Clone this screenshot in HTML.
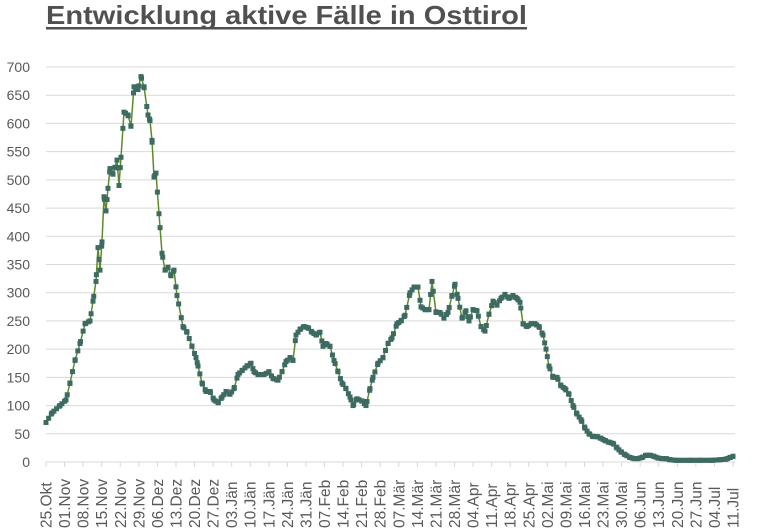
<!DOCTYPE html>
<html><head><meta charset="utf-8"><style>
html,body{margin:0;padding:0;background:#fff;width:768px;height:528px;overflow:hidden}
svg{display:block}
</style></head><body>
<svg id="s" width="768" height="528" xmlns="http://www.w3.org/2000/svg" font-family="Liberation Sans, Arial, sans-serif">
<text x="46" y="24" font-size="26" font-weight="bold" fill="#505050" textLength="481" lengthAdjust="spacingAndGlyphs">Entwicklung aktive Fälle in Osttirol</text>
<rect x="46" y="27" width="481" height="2.5" fill="#505050"/>
<g id="grid"></g><g id="data"></g><g id="lab"></g>
</svg>
<script>
var ns="http://www.w3.org/2000/svg";
function el(t,a,p,txt){var e=document.createElementNS(ns,t);for(var k in a)e.setAttribute(k,a[k]);if(txt!=null)e.textContent=txt;document.getElementById(p).appendChild(e);return e;}
var x0=46,x1=733,y0=462,sc=(462-67)/700;
for(var v=0;v<=700;v+=50){var y=y0-v*sc;
 if(v>0)el('line',{x1:x0,x2:x1+2,y1:y,y2:y,stroke:'#d9d9d9','stroke-width':1},'grid');
 el('text',{x:30,y:y+5,'font-size':14,fill:'#595959','text-anchor':'end'},'lab',String(v));}
el('line',{x1:x0,x2:x1+2,y1:y0,y2:y0,stroke:'#d9d9d9','stroke-width':1},'grid');
var labs=["25.Okt","01.Nov","08.Nov","15.Nov","22.Nov","29.Nov","06.Dez","13.Dez","20.Dez","27.Dez","03.Jän","10.Jän","17.Jän","24.Jän","31.Jän","07.Feb","14.Feb","21.Feb","28.Feb","07.Mär","14.Mär","21.Mär","28.Mär","04.Apr","11.Apr","18.Apr","25.Apr","02.Mai","09.Mai","16.Mai","23.Mai","30.Mai","06.Jun","13.Jun","20.Jun","27.Jun","04.Jul","11.Jul"];
var dx=(x1-x0)/37;
labs.forEach(function(l,i){var x=x0+i*dx;
 el('line',{x1:x,x2:x,y1:y0,y2:y0+5,stroke:'#d9d9d9'},'grid');
 el('text',{x:0,y:0,'font-size':15.5,fill:'#595959','text-anchor':'start',transform:'translate('+(x+5.5)+',528) rotate(-90)'},'lab',l);});
var K=[[46,70],[52,87],[60,100],[66,110],[70,140],[75,180],[80,210],[85,245],[90,250],[93,285],[96,320],[98,380],[100,340],[102,390],[104,470],[106,445],[108,485],[110,520],[113,510],[117,535],[119,490],[121,540],[124,620],[128,615],[131,595],[134,665],[138,660],[141,683],[144,665],[148,615],[150,605],[152,570],[154,505],[156,512],[159,440],[162,370],[165,340],[168,345],[171,330],[174,340],[177,295],[183,240],[187,230],[192,205],[196,185],[198,170],[202,140],[206,125],[210,125],[214,110],[218,105],[222,115],[226,125],[230,120],[234,130],[238,155],[242,162],[247,170],[251,175],[254,160],[258,155],[264,155],[269,160],[273,148],[278,145],[282,160],[286,178],[290,185],[293,180],[296,225],[300,235],[304,240],[308,238],[312,230],[316,225],[320,230],[323,205],[326,210],[330,205],[334,180],[338,160],[342,140],[346,130],[350,115],[353,100],[357,112],[362,108],[366,100],[370,130],[373,150],[378,175],[383,185],[388,210],[392,220],[397,245],[401,250],[405,260],[410,300],[414,310],[418,310],[421,275],[425,270],[429,270],[432,320],[436,265],[440,265],[444,255],[448,265],[452,295],[455,315],[458,290],[462,255],[466,268],[469,250],[473,270],[477,268],[481,240],[485,232],[489,262],[493,285],[497,278],[501,290],[505,297],[509,290],[513,295],[517,290],[520,283],[523,245],[527,240],[531,245],[535,245],[539,240],[543,225],[546,200],[549,170],[553,150],[557,150],[561,135],[565,130],[569,120],[573,100],[577,85],[581,75],[585,60],[589,50],[593,45],[597,45],[601,42],[605,38],[609,35],[613,33],[617,25],[621,18],[625,13],[630,8],[634,6],[638,6],[642,8],[646,12],[650,12],[654,10],[658,7],[662,6],[666,6],[670,4],[676,3],[690,3],[700,3],[712,3],[720,4],[726,5],[730,8],[733,10]];
var pts=K.map(function(p){return [p[0],y0-p[1]*sc];});
el('polyline',{points:pts.map(function(p){return p[0].toFixed(1)+','+p[1].toFixed(1)}).join(' '),fill:'none',stroke:'#5d8a2a','stroke-width':1.5},'data');
var step=(x1-x0)/259, mk=[];
for(var d=0;d<=259;d++){var x=x0+d*step,j=0;while(j<pts.length-2&&pts[j+1][0]<x)j++;
 var a=pts[j],b=pts[j+1],t=Math.max(0,Math.min(1,(x-a[0])/(b[0]-a[0])));mk.push([x,a[1]+(b[1]-a[1])*t]);}
pts.forEach(function(p){mk.push(p);});
mk.forEach(function(p){el('rect',{x:p[0]-2.5,y:p[1]-2.5,width:5,height:5,fill:'#3d6b62'},'data');});
</script>
</body></html>
